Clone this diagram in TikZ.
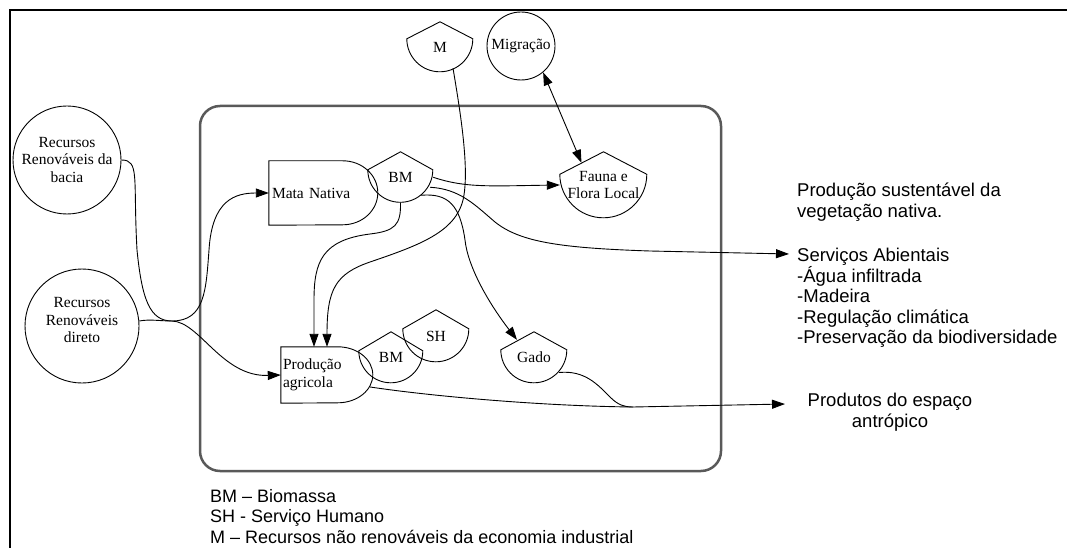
\documentclass[tikz,border=0pt]{standalone}
\usepackage{fontspec}
\setmainfont{Liberation Serif}
\newfontfamily\arialf{Liberation Sans}
\usetikzlibrary{arrows.meta,calc}
\tikzset{
  lbl/.style={font=\fontsize{15.5}{17.5}\selectfont, align=center, inner sep=0pt},
  wire/.style={line width=0.9pt},
  flow/.style={wire, -{Triangle[length=13pt,width=9pt]}},
  biflow/.style={wire, {Triangle[length=13pt,width=9pt]}-{Triangle[length=13pt,width=9pt]}},
  stxt/.style={font=\arialf\fontsize{18}{20.5}\selectfont, inner sep=0pt, anchor=north west, align=left},
  rtxt/.style={stxt, font=\arialf\fontsize{18.5}{20.5}\selectfont},
  res/.style={lbl, circle, draw, line width=0.9pt},
  prodbox/.style={lbl, align=left},
  frameline/.style={line width=2pt},
  system/.style={line width=2.5pt, black!65, rounded corners=20pt},
}
\newcommand\consumer[6]{%
  \node[lbl, minimum width=2*#4pt, minimum height=(#5+#4)*1pt] (#1) at (#2, #3+0.5*#5+0.5*#4) {#6};
  \draw[wire] (#1.north) -- ([yshift=-#5pt]#1.north west) arc[start angle=180,end angle=360,radius=#4pt] -- cycle;
}
\begin{document}
\begin{tikzpicture}[x=1pt,y=-1pt]
\useasboundingbox (0,0) rectangle (1067,548);
\draw[frameline] (10,550) -- (10,10) -- (1069,10);
\draw[system] (200,106) rectangle (721,471);

% resource circles
\node[res, minimum size=108pt] (bacia) at (67,160) {Recursos\\Renováveis da\\bacia};
\node[res, minimum size=114pt] (direto) at (82,326) {Recursos\\Renováveis\\direto\vphantom{g}\\[-6pt]};
\node[res, minimum size=68pt] (migr) at (521,46) {Migração};

% producers
\node[prodbox, minimum height=64pt, text width=104pt, inner xsep=3pt] (mata) at (324,193) {Mata Nativa};
\draw[wire] (mata.north west) -- ++(74,0) arc[start angle=90,end angle=-90,x radius=35pt,y radius=32pt] -- (mata.south west) -- cycle;
\node[prodbox, minimum height=56pt, text width=88pt, inner xsep=2pt] (prod) at (327,375) {Produção\\agricola};
\draw[wire] (prod.north west) -- ++(57,0) arc[start angle=90,end angle=-90,x radius=35pt,y radius=28pt] -- (prod.south west) -- cycle;

% consumers
\consumer{M}{440}{22}{33}{17}{M}
\consumer{bmA}{400.5}{152}{32.5}{18}{BM}
\consumer{fauna}{603.5}{152}{43.5}{22.5}{Fauna e\\Flora Local}
\consumer{bmB}{391}{332}{32}{19}{BM}
\consumer{sh}{436}{310}{33}{19}{SH}
\consumer{gado}{534}{332}{33}{18}{Gado}

% coordinates
\coordinate (J) at (172,321);
\coordinate (mrg) at (633,407);
\coordinate (servin) at (789,254);
\coordinate (prodout) at (785,404);

% connectors
\draw[wire] (bacia.east) .. controls (140,160) and (133,178) .. (137,250) .. controls (142,300) and (150,321) .. (J);
\draw[wire] (direto.5) .. controls (150,319) and (160,321) .. (J);
\draw[flow] (J) .. controls (205,321) and (206,290) .. (209,250) .. controls (212,200) and (235,193) .. (mata.west);
\draw[flow] (J) .. controls (200,322) and (222,377) .. (prod.west);
\draw[flow] ([xshift=13pt,yshift=4pt]M.south) .. controls (460,110) and (470,170) .. (463,200) .. controls (455,232) and (420,245) .. (370,262) .. controls (335,274) and (327,290) .. (prod.north);
\draw[flow] (bmA.south) .. controls (401,225) and (395,231) .. (370,234) .. controls (322,240) and (314,262) .. (314,300) -- ([xshift=-13pt]prod.north);
\draw[flow] (bmA.east) .. controls (465,188) and (490,186) .. (fauna.west);
\draw[flow] ([xshift=-3pt,yshift=-10pt]bmA.east) .. controls (460,189) and (475,205) .. (495,222) .. controls (520,242) and (560,248) .. (650,251) -- (servin);
\draw[flow] ([xshift=-12pt,yshift=-18pt]bmA.east) .. controls (448,193) and (460,205) .. (465,240) .. controls (468,268) and (490,305) .. ([xshift=-17pt,yshift=-8pt]gado.north);
\draw[biflow] (migr.-50) -- ([xshift=-22pt,yshift=-11pt]fauna.north);
\draw[wire] ([xshift=-3pt,yshift=-12pt]prod.east) .. controls (430,396) and (540,406) .. (mrg);
\draw[wire] ([xshift=-8pt,yshift=-15pt]gado.east) .. controls (585,370) and (598,385) .. (610,397) .. controls (618,405) and (624,407) .. (mrg);
\draw[flow] (mrg) -- (prodout);

% texts
\node[rtxt] (sust) at (797,183) {Produção sustentável da\\vegetação nativa.};
\node[rtxt] (serv) at (797,248) {Serviços Abientais\\-Água infiltrada\\-Madeira\\-Regulação climática\\-Preservação da biodiversidade};
\node[rtxt, align=center, anchor=north] (produtos) at (890,393) {Produtos do espaço\\antrópico};
\node[stxt] (legend) at (210,489) {BM – Biomassa\\SH - Serviço Humano\\M – Recursos não renováveis da economia industrial};
\end{tikzpicture}
\end{document}
